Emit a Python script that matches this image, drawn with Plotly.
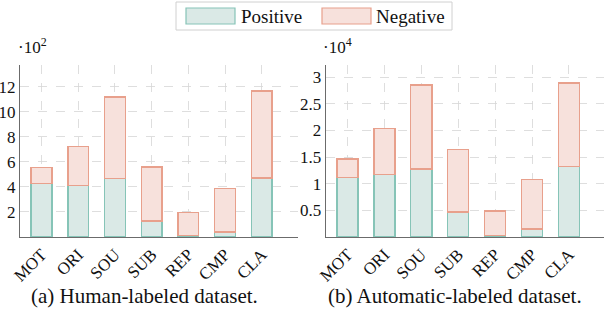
import plotly.graph_objects as go

categories = ["MOT", "ORI", "SOU", "SUB", "REP", "CMP", "CLA"]
human_pos = [428, 410, 465, 128, 13, 40, 471]
human_neg = [128, 313, 652, 431, 184, 348, 694]
auto_pos = [11160, 11700, 12800, 4700, 300, 1500, 13200]
auto_neg = [3490, 8700, 15750, 11760, 4560, 9300, 15700]
human_ticks = [2, 4, 6, 8, 10, 12]
auto_ticks = [0.5, 1, 1.5, 2, 2.5, 3]
auto_ticklabels = ["0.5", "1", "1.5", "2", "2.5", "3"]

POS_FILL, POS_LINE = "#dae9e6", "#86c4b7"
NEG_FILL, NEG_LINE = "#f7e1dc", "#e8a08c"
FONT = "Liberation Serif"

fig = go.Figure()
xs = list(range(len(categories)))

def add(vals, scale, fill, line, name, xa, ya):
    fig.add_trace(go.Bar(
        x=xs, y=[v / scale for v in vals], name=name, width=0.57,
        marker=dict(color=fill, line=dict(color=line, width=1.4)),
        xaxis=xa, yaxis=ya, showlegend=False))

add(human_pos, 100, POS_FILL, POS_LINE, "Positive", "x", "y")
add(human_neg, 100, NEG_FILL, NEG_LINE, "Negative", "x", "y")
add(auto_pos, 10000, POS_FILL, POS_LINE, "Positive", "x2", "y2")
add(auto_neg, 10000, NEG_FILL, NEG_LINE, "Negative", "x2", "y2")

ydom = [(312 - 237) / 312, (312 - 65) / 312]
common_x = dict(
    tickmode="array", tickvals=xs, ticktext=categories, tickangle=-45,
    showgrid=True, gridcolor="#d6d6d6", griddash="dash", gridwidth=0.8,
    showline=True, linecolor="#6b6b6b", linewidth=1, ticks="", automargin=False,
    tickfont=dict(family=FONT, size=17, color="#111"), zeroline=False)
common_y = dict(
    showgrid=True, gridcolor="#d6d6d6", griddash="dash", gridwidth=0.8,
    showline=True, linecolor="#6b6b6b", linewidth=1, ticks="", automargin=False,
    tickfont=dict(family=FONT, size=17, color="#111"), zeroline=False)

fig.update_layout(
    width=604, height=312, margin=dict(l=0, r=0, t=0, b=0, autoexpand=False),
    plot_bgcolor="white", paper_bgcolor="white", barmode="stack",
    bargap=0.43,
    xaxis=dict(domain=[20 / 604, 298 / 604], range=[-0.59, 6.99], anchor="y", **common_x),
    yaxis=dict(domain=ydom, range=[0, 13.74], tickvals=human_ticks, anchor="x", **common_y),
    xaxis2=dict(domain=[325.7 / 604, 1.0], range=[-0.59, 6.95], anchor="y2", **common_x),
    yaxis2=dict(domain=ydom, range=[0, 3.23], tickvals=auto_ticks, ticktext=auto_ticklabels,
                anchor="x2", **common_y),
    font=dict(family=FONT, color="#111", size=17),
)

def px(x):
    return x / 604

def py(y):
    return (312 - y) / 312

# exponent labels
fig.add_annotation(x=px(16), y=py(46), xref="paper", yref="paper",
                   text="·10<sup>2</sup>", showarrow=False, xanchor="left", yanchor="middle",
                   font=dict(family=FONT, size=17))
fig.add_annotation(x=px(321), y=py(46), xref="paper", yref="paper",
                   text="·10<sup>4</sup>", showarrow=False, xanchor="left", yanchor="middle",
                   font=dict(family=FONT, size=17))

# captions
fig.add_annotation(x=px(144), y=py(296), xref="paper", yref="paper",
                   text="(a) Human-labeled dataset.", showarrow=False,
                   xanchor="center", yanchor="middle", font=dict(family=FONT, size=21))
fig.add_annotation(x=px(455), y=py(296), xref="paper", yref="paper",
                   text="(b) Automatic-labeled dataset.", showarrow=False,
                   xanchor="center", yanchor="middle", font=dict(family=FONT, size=21))

# legend (drawn)
fig.add_shape(type="rect", xref="paper", yref="paper", x0=px(176), x1=px(452), y0=py(30), y1=py(2),
              line=dict(color="#d0d0d0", width=1), fillcolor="white")
fig.add_shape(type="rect", xref="paper", yref="paper", x0=px(186), x1=px(235), y0=py(24), y1=py(8),
              line=dict(color=POS_LINE, width=1.2), fillcolor=POS_FILL)
fig.add_shape(type="rect", xref="paper", yref="paper", x0=px(322), x1=px(371), y0=py(24), y1=py(8),
              line=dict(color=NEG_LINE, width=1.2), fillcolor=NEG_FILL)
fig.add_annotation(x=px(239), y=py(16), xref="paper", yref="paper", text="Positive",
                   showarrow=False, xanchor="left", yanchor="middle", font=dict(family=FONT, size=19))
fig.add_annotation(x=px(374), y=py(16), xref="paper", yref="paper", text="Negative",
                   showarrow=False, xanchor="left", yanchor="middle", font=dict(family=FONT, size=19))

fig.write_html("out.html", config={"displayModeBar": False, "staticPlot": True})

# remove default page margin so the figure sits at the window origin
with open("out.html", "r", encoding="utf-8") as f:
    html = f.read()
html = html.replace("<body>", '<body style="margin:0;padding:0;overflow:hidden">', 1)
with open("out.html", "w", encoding="utf-8") as f:
    f.write(html)
